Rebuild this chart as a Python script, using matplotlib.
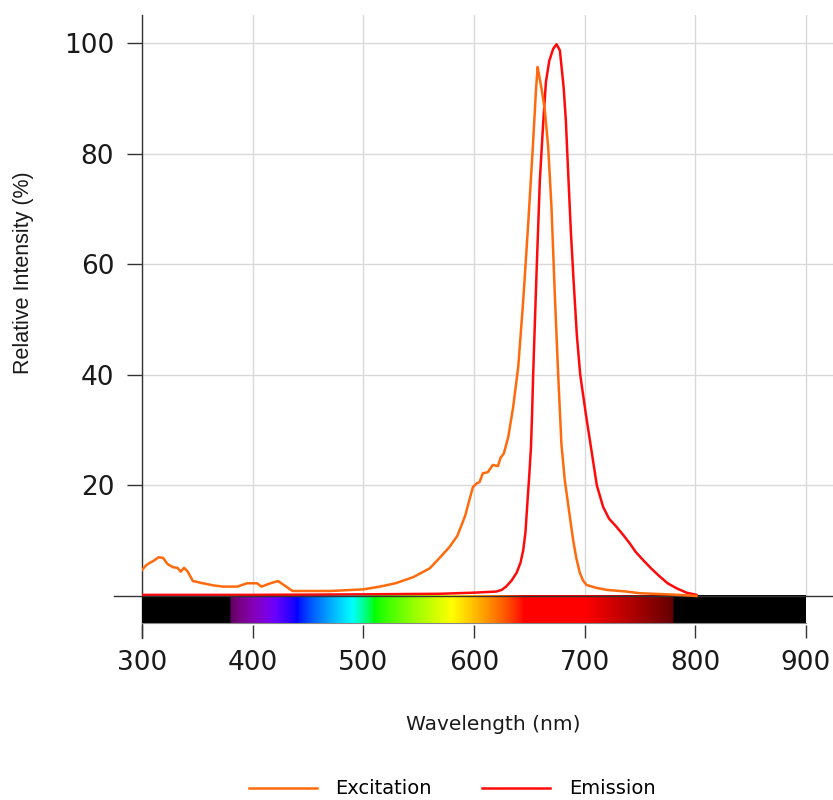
import numpy as np
import matplotlib
matplotlib.use("Agg")
import matplotlib.pyplot as plt
from matplotlib import font_manager

# ---------------- data ----------------
excitation_wl = [300, 304, 307, 310, 315, 319, 323, 328, 332, 335, 338, 341, 346, 355, 365, 373,
                 386, 395, 404, 408, 416, 423, 431, 436, 470, 500, 515, 529, 545, 560, 569, 578,
                 585, 592, 599, 602.6, 605, 608, 612.5, 617, 621.6, 624, 627, 631, 635.4, 640,
                 644.5, 649, 653, 656, 657.5, 659, 661, 664, 667, 670, 673, 676, 679, 682,
                 686.5, 689.6, 692.5, 695.6, 698.5, 701.7, 710, 720, 737.8, 750, 768, 785, 801]
excitation_val = [4.7, 5.6, 6.0, 6.3, 7.0, 6.9, 5.8, 5.2, 5.1, 4.4, 5.1, 4.5, 2.7, 2.3, 1.9, 1.7,
                  1.7, 2.3, 2.3, 1.7, 2.3, 2.7, 1.6, 0.9, 0.9, 1.2, 1.7, 2.3, 3.4, 5.0, 6.9, 8.9,
                  10.9, 14.5, 19.7, 20.4, 20.6, 22.2, 22.4, 23.7, 23.5, 25.0, 25.8, 28.8, 34.2, 41.5,
                  53.5, 67.4, 80.7, 91.5, 95.7, 94.0, 91.8, 87.9, 81.3, 70.4, 54.7, 40.3, 27.5, 21.0,
                  14.5, 10.1, 6.8, 4.2, 2.8, 2.0, 1.5, 1.1, 0.8, 0.5, 0.35, 0.2, 0.0]

emission_wl = [300, 400, 500, 569, 600, 620, 625, 629, 634, 638.5, 642, 644.5, 646.5, 648, 650,
               651.5, 652.5, 653.5, 656.5, 659.5, 662.5, 665, 668, 671.6, 674.6, 677.6, 681, 683,
               685, 687.5, 690, 693, 696, 701, 706, 711, 716.7, 722, 728.8, 735, 740.8, 746,
               752.8, 760, 768, 775, 783, 792, 801]
emission_val = [0.2, 0.2, 0.3, 0.4, 0.6, 0.8, 1.1, 1.7, 2.8, 4.2, 6.0, 8.3, 11.5, 16.1, 22.0,
                27.0, 33.0, 40.3, 58.4, 75.2, 85.5, 93.0, 96.8, 99.0, 99.8, 98.7, 92.0, 86.0,
                77.0, 66.0, 57.0, 47.0, 40.0, 33.0, 26.5, 20.0, 16.1, 14.0, 12.5, 11.0, 9.5, 8.0,
                6.5, 5.0, 3.5, 2.3, 1.4, 0.6, 0.2]

series_labels = ["Excitation", "Emission"]
series_colors = ["#ff6a0d", "#ff0a0a"]

x_ticks = [300, 400, 500, 600, 700, 800, 900]
y_ticks = [20, 40, 60, 80, 100]
x_label = "Wavelength (nm)"
y_label = "Relative Intensity (%)"


def wavelength_to_rgb(wl, gamma=0.8):
    r = g = b = 0.0
    if 380 <= wl < 440:
        r, g, b = -(wl - 440) / 60.0, 0.0, 1.0
    elif 440 <= wl < 490:
        r, g, b = 0.0, (wl - 440) / 50.0, 1.0
    elif 490 <= wl < 510:
        r, g, b = 0.0, 1.0, -(wl - 510) / 20.0
    elif 510 <= wl < 580:
        r, g, b = (wl - 510) / 70.0, 1.0, 0.0
    elif 580 <= wl < 645:
        r, g, b = 1.0, -(wl - 645) / 65.0, 0.0
    elif 645 <= wl <= 780:
        r, g, b = 1.0, 0.0, 0.0
    if 380 <= wl < 420:
        f = 0.3 + 0.7 * (wl - 380) / 40.0
    elif 420 <= wl < 700:
        f = 1.0
    elif 700 <= wl <= 780:
        f = 0.3 + 0.7 * (780 - wl) / 80.0
    else:
        f = 0.0
    return [(c * f) ** gamma if c * f > 0 else 0.0 for c in (r, g, b)]


# ---------------- fonts ----------------
names = {f.name for f in font_manager.fontManager.ttflist}
ylab_font = "Liberation Sans Narrow" if "Liberation Sans Narrow" in names else "Liberation Sans"

# ---------------- figure ----------------
W, H = 833, 800
fig = plt.figure(figsize=(W / 100, H / 100), dpi=100)
ax = fig.add_axes([142 / W, (H - 638) / H, (833 - 142) / W, (638 - 15) / H])

ax.set_xlim(300, 924.4)
ax.set_ylim(-7.6, 105.1)

# spectrum bar
wls = np.arange(300, 901, 1)
rgb = np.array([wavelength_to_rgb(w) for w in wls])[None, :, :]
ax.imshow(rgb, extent=(300, 900, -4.9, 0), aspect="auto", zorder=3, interpolation="bilinear")
ax.plot([300, 900], [-4.9, -4.9], color="#888888", lw=0.8, zorder=3.5)

ax.plot(excitation_wl, excitation_val, color=series_colors[0], lw=1.8, label=series_labels[0],
        zorder=5, solid_joinstyle="round")
ax.plot(emission_wl, emission_val, color=series_colors[1], lw=1.8, label=series_labels[1],
        zorder=4, solid_joinstyle="round")

ax.axhline(0, xmin=-0.04, xmax=1, color="#333333", lw=1.0, clip_on=False, zorder=4.5)

# grid
for xt in x_ticks:
    ax.plot([xt, xt], [0, 105.1], color="#d9d9d9", lw=1.0, zorder=1)
for yt in y_ticks:
    ax.axhline(yt, color="#d9d9d9", lw=1.0, zorder=1)

for s in ["top", "right", "bottom"]:
    ax.spines[s].set_visible(False)
ax.spines["left"].set_color("#333333")
ax.spines["left"].set_linewidth(1.0)

ax.set_xticks(x_ticks)
ax.set_xticklabels([str(t) for t in x_ticks])
ax.set_yticks(y_ticks)
ax.set_yticklabels([str(t) for t in y_ticks])
ax.tick_params(axis="x", direction="in", length=9.5, width=1.0, color="#333333", pad=9,
               labelsize=19, labelcolor="#1a1a1a")
ax.tick_params(axis="y", direction="out", length=11, width=1.0, color="#333333", pad=9,
               labelsize=19, labelcolor="#1a1a1a")

fig.text(24 / W, 1 - 273 / H, y_label, rotation=90, ha="center", va="center",
         fontsize=15.5, family=ylab_font, color="#1a1a1a")
fig.text(493 / W, 1 - 724 / H, x_label, ha="center", va="center", fontsize=14.5, color="#1a1a1a")

handles, labels = ax.get_legend_handles_labels()
fig.legend(handles, labels, loc="center", bbox_to_anchor=(452 / W, 1 - 789 / H), ncol=2,
           frameon=False, fontsize=14, handlelength=3.5, handletextpad=0.95, columnspacing=2.6)

fig.savefig("out.png", dpi=100)
